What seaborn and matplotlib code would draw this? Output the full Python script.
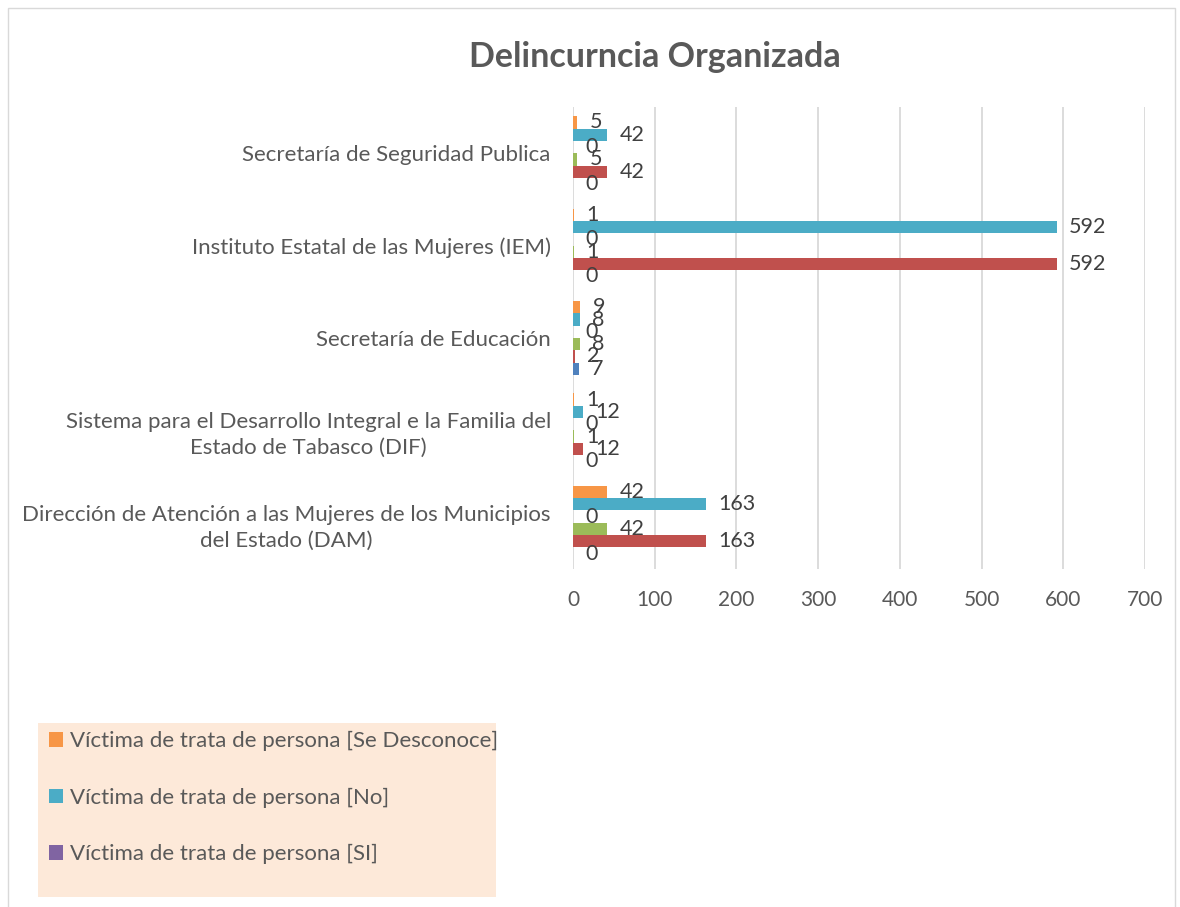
import matplotlib
matplotlib.use('Agg')
import numpy as np
import pandas as pd
import seaborn as sns
import matplotlib.pyplot as plt
from matplotlib.patches import Patch, Rectangle

categorias = ['Secretaría de Seguridad Publica',
              'Instituto Estatal de las Mujeres (IEM)',
              'Secretaría de Educación',
              'Sistema para el Desarrollo Integral e la Familia del\nEstado de Tabasco (DIF)',
              'Dirección de Atención a las Mujeres de los Municipios\ndel Estado (DAM)']

# orden de arriba hacia abajo dentro de cada grupo
series = ['Víctima de trata de persona [Se Desconoce]',
          'Víctima de trata de persona [No]',
          'Víctima de trata de persona [SI]',
          'Delincuencia Organizada [Se Desconoce]',
          'Delincuencia Organizada [No]',
          'Delincuencia Organizada [SI]']

vt_desconoce = [5, 1, 9, 1, 42]
vt_no = [42, 592, 8, 12, 163]
vt_si = [0, 0, 0, 0, 0]
do_desconoce = [5, 1, 8, 1, 42]
do_no = [42, 592, 2, 12, 163]
do_si = [0, 0, 7, 0, 0]

colores = ['#F79646', '#4BACC6', '#8064A2', '#9BBB59', '#C0504D', '#4F81BD']

valores = [vt_desconoce, vt_no, vt_si, do_desconoce, do_no, do_si]
filas = []
for s, vals in zip(series, valores):
    for c, v in zip(categorias, vals):
        filas.append({'institucion': c, 'serie': s, 'valor': v})
df = pd.DataFrame(filas)

sns.set_theme(style='white')
plt.rcParams['font.family'] = ['Lato', 'DejaVu Sans']

fig = plt.figure(figsize=(11.8, 9.07), dpi=100)
ax = fig.add_axes([573/1180, 1-569/907, (1145-573)/1180, (569-107)/907])

sns.barplot(data=df, y='institucion', x='valor', hue='serie', order=categorias,
            hue_order=series, palette=colores, orient='h', width=0.8,
            saturation=1, legend=False, linewidth=0, ax=ax)

for cont in ax.containers:
    ax.bar_label(cont, padding=9, color='#404040', fontsize=15.5)

ax.set_xlim(0, 700)
ax.set_xticks(np.arange(0, 701, 100))
ax.grid(axis='x', color='#D9D9D9', linewidth=1.3)
ax.grid(axis='y', visible=False)
ax.set_axisbelow(True)
for sp in ax.spines.values():
    sp.set_visible(False)
ax.set_xlabel('')
ax.set_ylabel('')
ax.tick_params(axis='x', length=0, labelsize=15, labelcolor='#595959', pad=15)
ax.tick_params(axis='y', length=0, labelsize=16, labelcolor='#595959', pad=16)
for lbl in ax.get_yticklabels():
    lbl.set_multialignment('center')
    lbl.set_linespacing(1.35)

fig.text(655/1180, 1-57/907, 'Delincurncia Organizada', ha='center', va='center',
         fontsize=24.5, fontweight='bold', color='#595959')

# borde del área del gráfico
fig.patches.append(Rectangle((8/1180, -0.01), (1175-8)/1180, 1.01-8/907, transform=fig.transFigure,
                             fill=False, edgecolor='#D9D9D9', linewidth=1))

# leyenda (solo se ven tres entradas)
fig.patches.append(Rectangle((38/1180, 1-897/907), (496-38)/1180, (897-723)/907,
                             transform=fig.transFigure, facecolor='#FDE9D9',
                             edgecolor='none'))
handles = [Patch(facecolor=colores[i], edgecolor='none') for i in range(3)]
fig.legend(handles, series[:3], loc='upper left', bbox_to_anchor=(29/1180, 1-711/907),
           frameon=False, fontsize=16, labelcolor='#595959', handlelength=0.65,
           handleheight=0.65, handletextpad=0.3, labelspacing=1.64, borderpad=0.4)

fig.savefig('out.png', dpi=100)
